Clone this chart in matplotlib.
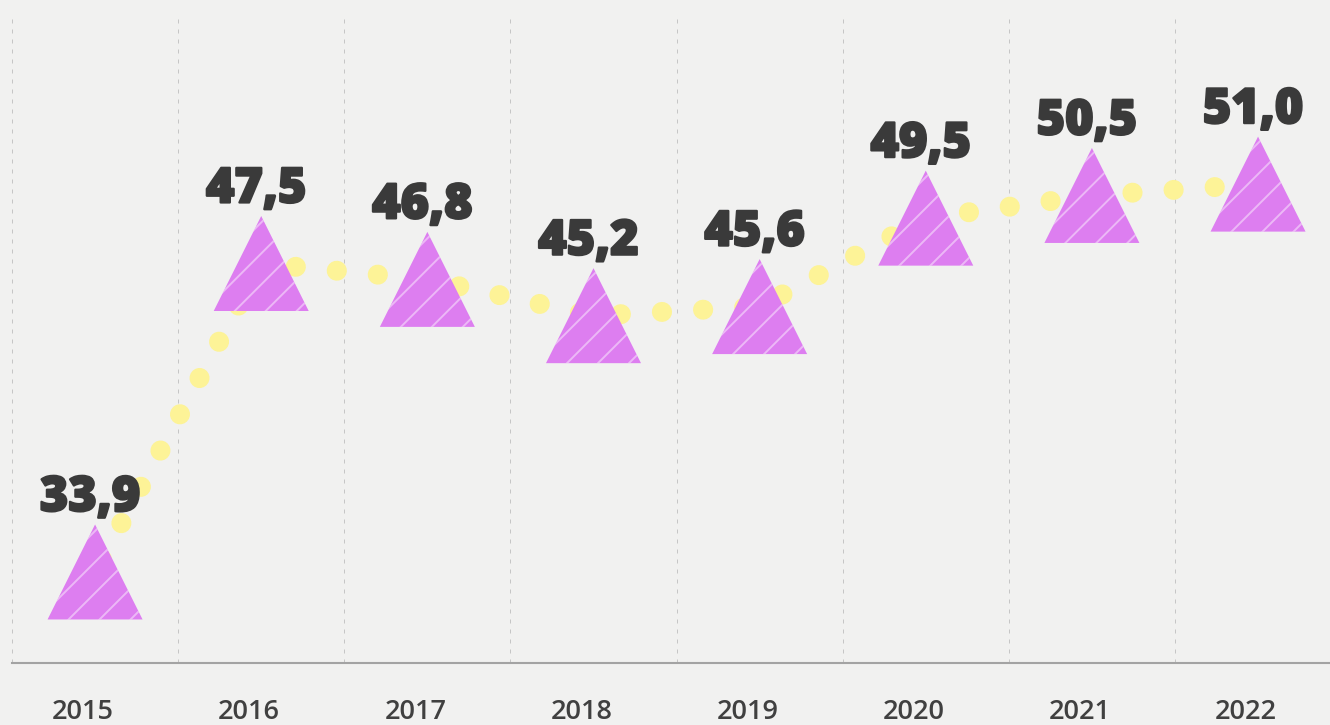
import matplotlib
matplotlib.use('Agg')
import matplotlib.pyplot as plt
import matplotlib.patheffects as pe
from matplotlib.path import Path
from matplotlib.patches import PathPatch
from matplotlib.transforms import Affine2D, ScaledTranslation, blended_transform_factory
import numpy as np

# data
years = ['2015', '2016', '2017', '2018', '2019', '2020', '2021', '2022']
values = [33.9, 47.5, 46.8, 45.2, 45.6, 49.5, 50.5, 51.0]
value_labels = ['33,9', '47,5', '46,8', '45,2', '45,6', '49,5', '50,5', '51,0']

bg = '#f1f1f0'
purple = '#dd7ef0'
yellow = '#fdf397'
dark = '#3a3a3a'

plt.rcParams['font.family'] = ['Open Sans', 'DejaVu Sans']

W, H = 1330, 725
fig = plt.figure(figsize=(W / 100, H / 100), dpi=100, facecolor=bg)
# plot area in pixels: left 12, bottom line at 662.7, top at 14, 166.14 px per category
ax = fig.add_axes([12 / W, (H - 662.7) / H, 8 * 166.14 / W, (662.7 - 14) / H])
ax.set_facecolor(bg)
x = np.arange(len(years))
ax.set_xlim(-0.5, len(years) - 0.5)
ax.set_ylim(29.9, 58.5)

for s in ['top', 'right', 'left']:
    ax.spines[s].set_visible(False)
ax.spines['bottom'].set_color('#a3a3a3')
ax.spines['bottom'].set_linewidth(1.5)
ax.set_xticks(x)
ax.set_xticklabels([])
ax.set_xticks(x - 0.5, minor=True)
ax.set_yticks([])
ax.tick_params(which='both', length=0)
ax.grid(which='minor', axis='x', color='#c6c6c6', linewidth=0.72, linestyle=(0, (4, 6)))
ax.set_axisbelow(True)

# yellow dotted connector
ax.plot(x, values, color=yellow, lw=14.4, linestyle=(1.35, (0.01, 2.05)),
        dash_capstyle='round', zorder=2)

# hatched triangles, 95 px wide, centred on each value
h = 47.5
tri = Path([(0, h), (-h, -h), (h, -h), (0, h)],
           [Path.MOVETO, Path.LINETO, Path.LINETO, Path.CLOSEPOLY])
for xi, v in zip(x, values):
    tr = Affine2D() + ScaledTranslation(xi, v, ax.transData)
    patch = PathPatch(tri, transform=tr, facecolor=purple, edgecolor='none', zorder=3)
    ax.add_patch(patch)
    for c in np.arange(-150, 150, 31) + 5:
        ln, = ax.plot([-60, 60], [-60 + c, 60 + c], transform=tr,
                      color='white', alpha=0.45, lw=1.4, zorder=3.5)
        ln.set_clip_path(patch)

for xi, v, lab in zip(x, values, value_labels):
    ax.annotate(lab, (xi, v), xytext=(-5, 61), textcoords='offset pixels',
                ha='center', va='baseline', fontsize=35, fontweight='heavy',
                color=dark, zorder=5,
                path_effects=[pe.withStroke(linewidth=1.6, foreground=dark)])

bt = blended_transform_factory(ax.transData, ax.transAxes)
for xi, yr in zip(x, years):
    ax.annotate(yr, (xi, 0), xycoords=bt, xytext=(-12, -56), textcoords='offset pixels',
                ha='center', va='baseline', fontsize=19.5, fontweight='semibold',
                color='#404040', annotation_clip=False)

fig.savefig('out.png', dpi=100, facecolor=bg)
